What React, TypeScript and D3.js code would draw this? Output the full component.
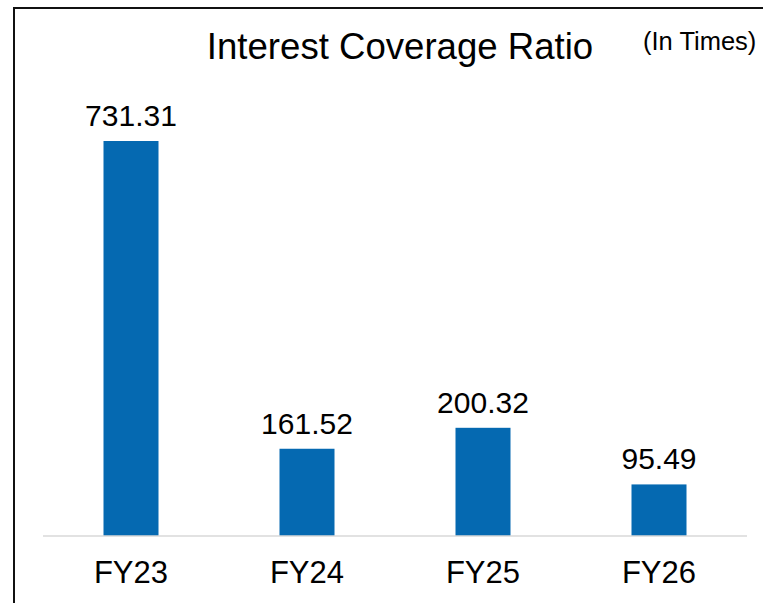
import React, { useEffect, useRef } from 'react';
import * as d3 from 'd3';

const categories = ['FY23', 'FY24', 'FY25', 'FY26'];
const values = [731.31, 161.52, 200.32, 95.49];
const valueLabels = ['731.31', '161.52', '200.32', '95.49'];
const title = 'Interest Coverage Ratio';
const unitNote = '(In Times)';

function App() {
    const svgRef = useRef<SVGSVGElement>(null);

    useEffect(() => {
        const width = 763;
        const height = 603;
        const font = '"Liberation Sans", Arial, sans-serif';

        const svg = d3.select(svgRef.current)
            .attr('width', width)
            .attr('height', height);
        svg.selectAll('*').remove();

        // frame (only top and left edges visible in the crop)
        svg.append('path')
            .attr('d', 'M14,610 L14,8 L770,8')
            .attr('fill', 'none')
            .attr('stroke', '#111')
            .attr('stroke-width', 2);

        const x = d3.scaleBand()
            .domain(categories)
            .range([43, 747])
            .paddingInner(0.6875)
            .paddingOuter(0.34375);

        const y = d3.scaleLinear()
            .domain([0, d3.max(values) as number])
            .range([536, 141]);

        // bars
        svg.selectAll('.bar')
            .data(values)
            .enter()
            .append('rect')
            .attr('class', 'bar')
            .attr('x', (d, i) => x(categories[i]) as number)
            .attr('width', x.bandwidth())
            .attr('y', d => y(d))
            .attr('height', d => y(0) - y(d))
            .attr('fill', '#0569B1');

        // baseline
        svg.append('line')
            .attr('x1', 43)
            .attr('x2', 747)
            .attr('y1', y(0))
            .attr('y2', y(0))
            .attr('stroke', '#D9D9D9')
            .attr('stroke-width', 1.5);

        // value labels
        svg.selectAll('.val')
            .data(values)
            .enter()
            .append('text')
            .attr('class', 'val')
            .attr('x', (d, i) => (x(categories[i]) as number) + x.bandwidth() / 2)
            .attr('y', d => y(d) - 15)
            .attr('text-anchor', 'middle')
            .style('font-family', font)
            .style('font-size', '30px')
            .attr('fill', '#000')
            .text((d, i) => valueLabels[i]);

        // category labels
        svg.selectAll('.cat')
            .data(categories)
            .enter()
            .append('text')
            .attr('class', 'cat')
            .attr('x', d => (x(d) as number) + x.bandwidth() / 2)
            .attr('y', 583)
            .attr('text-anchor', 'middle')
            .style('font-family', font)
            .style('font-size', '31px')
            .attr('fill', '#000')
            .text(d => d);

        svg.append('text')
            .attr('x', 400)
            .attr('y', 59)
            .attr('text-anchor', 'middle')
            .style('font-family', font)
            .style('font-size', '36.6px')
            .attr('fill', '#000')
            .text(title);

        svg.append('text')
            .attr('x', 643)
            .attr('y', 50)
            .style('font-family', font)
            .style('font-size', '25.5px')
            .attr('fill', '#000')
            .text(unitNote);
    }, []);

    return (
        <div style={{ position: 'absolute', left: 0, top: 0, background: '#fff' }}>
            <svg ref={svgRef} style={{ display: 'block' }}></svg>
        </div>
    );
}

export default App;
